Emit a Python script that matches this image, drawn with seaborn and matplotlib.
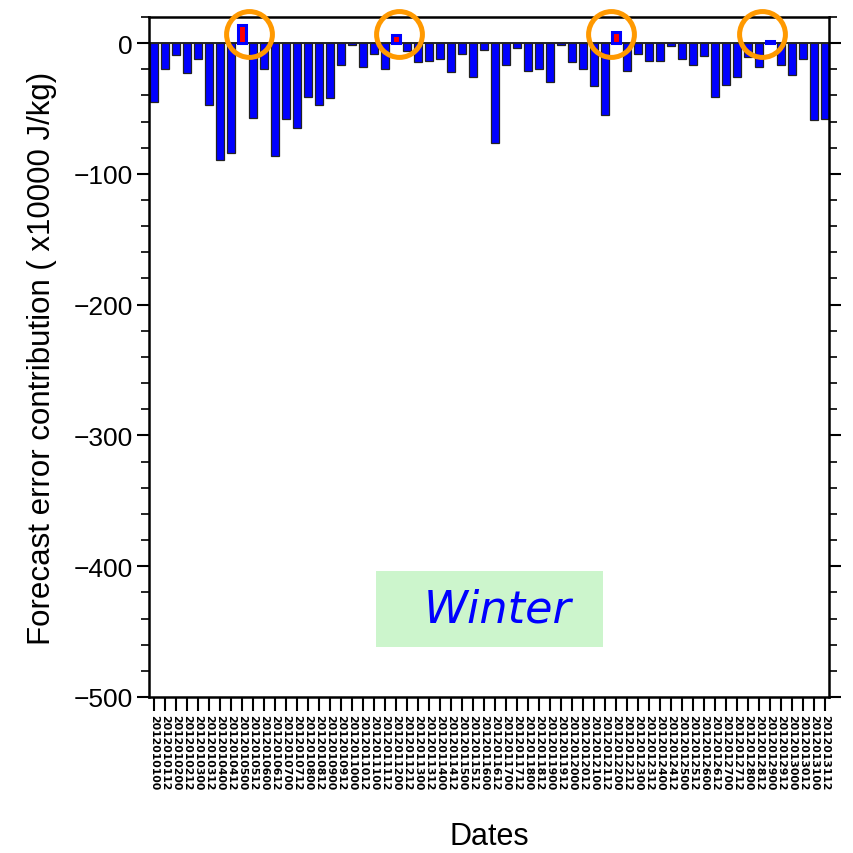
import matplotlib
matplotlib.use("Agg")
import matplotlib.pyplot as plt
import matplotlib.patches as mpatches
from matplotlib.ticker import MultipleLocator
import numpy as np
import pandas as pd
import seaborn as sns

# ---------------- data ----------------
dates = [d.strftime("%Y%m%d%H") for d in pd.date_range("2012-01-01 00:00", periods=62, freq="12h")]
values = [-45, -20, -9, -23, -12, -47, -89.5, -84, 14, -57,
          -20, -86, -58, -65, -41, -47, -42, -17, -1.5, -18,
          -8, -20, 6.4, -6, -14.8, -13.5, -12.5, -22.4, -8, -25.7,
          -5, -76.5, -17, -4, -21, -20, -29.6, -1.5, -14.8, -20,
          -33, -55, 8.7, -21, -8, -13.5, -13.5, -2.5, -12, -16.6,
          -10, -41, -32, -26, -11, -18.6, 1.8, -16.6, -24.5, -12,
          -59, -58]
highlight_idx = [8, 22, 42, 56]          # bars circled in the original
highlight_dx = [0.6, 0.3, -0.5, -0.7]   # hand-drawn circle offsets
y_ticks = [0, -100, -200, -300, -400, -500]
season = "Winter"

# ---------------- style ----------------
sns.set_theme(style="ticks")
plt.rcParams["font.family"] = ["Liberation Sans", "DejaVu Sans"]
plt.rcParams["axes.unicode_minus"] = True
for key in ["text.color", "axes.labelcolor", "xtick.color", "ytick.color", "axes.edgecolor"]:
    plt.rcParams[key] = "black"

df = pd.DataFrame({"date": dates, "value": values})
colors = ["#ff0000" if v > 0 else "#0000ff" for v in values]

fig = plt.figure(figsize=(8.54, 8.54), dpi=100)
ax = fig.add_axes([0.1745, 0.1827, 0.7963, 0.7963])

sns.barplot(data=df, x="date", y="value", hue="date", palette=colors,
            legend=False, width=0.76, saturation=1, ax=ax,
            edgecolor="#222222", linewidth=0.9)

for p, v in zip(ax.patches, values):
    if v > 0:
        p.set_edgecolor("#0000ff")
        p.set_linewidth(2.2)

ax.axhline(0, color="black", lw=1.2, zorder=0.5)

ax.set_xlim(-0.45, 61.35)
ax.set_ylim(-500, 20)
ax.set_yticks(y_ticks)
ax.yaxis.set_minor_locator(MultipleLocator(20))
ax.tick_params(axis="y", which="major", direction="out", length=8.6, width=1.5,
               left=True, right=True, labelsize=19, pad=3, colors="black")
ax.tick_params(axis="y", which="minor", direction="out", length=5.8, width=1.2,
               left=True, right=True, colors="black")
ax.tick_params(axis="x", which="major", direction="out", length=10, width=1.5,
               pad=2, colors="black")
ax.set_xticks(range(len(dates)))
ax.set_xticklabels(dates, rotation=270, family="DejaVu Sans", fontsize=7.8,
                   fontweight="bold", va="top", ha="center")

for s in ax.spines.values():
    s.set_linewidth(1.8)
    s.set_color("black")

ax.set_ylabel("Forecast error contribution ( x10000 J/kg)", fontsize=22.5,
              labelpad=12, color="black")
ax.set_xlabel("Dates", fontsize=22, color="black")
ax.xaxis.set_label_coords(0.5, -0.182)

# season label box
ax.add_patch(mpatches.Rectangle((0.334, 0.0735), 0.334, 0.1115, transform=ax.transAxes,
                                facecolor="#ccf5cc", edgecolor="none", zorder=3))
ax.text(0.5125, 0.129, season, transform=ax.transAxes, fontsize=32, style="italic",
        color="#0000ff", ha="center", va="center", family="DejaVu Sans", zorder=4)

# orange highlight circles
for i, dx in zip(highlight_idx, highlight_dx):
    ax.plot(i + dx, 7, marker="o", ms=33, mfc="none", mec="#ff9900", mew=3.6,
            clip_on=False, zorder=5)

fig.savefig("out.png", dpi=100)
